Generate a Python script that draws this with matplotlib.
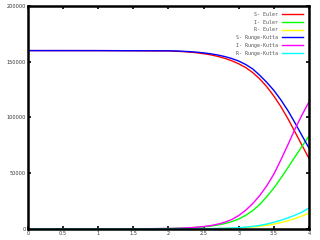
import matplotlib
matplotlib.use('Agg')
import matplotlib.pyplot as plt

# time points (days)
t = [0.0, 0.5, 1.0, 1.5, 2.0, 2.1, 2.2, 2.3, 2.4, 2.5, 2.6, 2.7, 2.8, 2.9,
     3.0, 3.1, 3.2, 3.3, 3.4, 3.5, 3.6, 3.7, 3.8, 3.9, 4.0]

# Euler
s_euler = [160000, 159995, 159975, 159880, 159700, 159450, 159100, 158650, 158050,
           157250, 156200, 154850, 153100, 150900, 148150, 144750, 140250, 134550,
           127550, 119250, 109750, 98950, 87150, 75150, 63350]
i_euler = [1, 5, 22, 105, 405, 550, 750, 1020, 1390, 1900, 2590, 3530, 4830, 6570,
           8960, 12220, 16500, 22070, 29000, 36700, 45600, 55000, 64600, 74000, 83400]
r_euler = [0, 0, 2, 10, 43, 58, 80, 108, 147, 200, 275, 375, 510, 700,
           950, 1300, 1770, 2410, 3250, 4330, 5680, 7340, 9320, 11600, 14200]

# Runge-Kutta
s_rk = [160000, 159995, 159975, 159880, 159800, 159675, 159415, 159055, 158590,
        157970, 157145, 156065, 154675, 152880, 150625, 147500, 143500, 137800,
        131500, 124300, 115800, 106200, 95300, 83800, 72600]
i_rk = [1, 5, 22, 100, 398, 560, 787, 1100, 1550, 2180, 3050, 4300, 6020, 8450,
        12000, 16850, 22750, 30050, 38750, 49200, 62000, 75500, 89500, 102200, 113900]
r_rk = [0, 0, 2, 10, 60, 80, 100, 150, 200, 270, 350, 480, 650, 870,
        1150, 1600, 2300, 3200, 4400, 6000, 7800, 9900, 12300, 15100, 18800]

series = [
    ('S- Euler', s_euler, '#ff0000'),
    ('I- Euler', i_euler, '#00ff00'),
    ('R- Euler', r_euler, '#ffff00'),
    ('S- Runge-Kutta', s_rk, '#0000ff'),
    ('I- Runge-Kutta', i_rk, '#ff00ff'),
    ('R- Runge-Kutta', r_rk, '#00ffff'),
]

xticks = [0, 0.5, 1, 1.5, 2, 2.5, 3, 3.5, 4]
xlabels = ['0', '0.5', '1', '1.5', '2', '2.5', '3', '3.5', '4']
yticks = [0, 50000, 100000, 150000, 200000]


def main():
    fig = plt.figure(figsize=(3.2, 2.4), dpi=100)
    ax = fig.add_axes([0.0875, 0.046, 0.878, 0.929])

    for label, vals, color in series:
        ax.plot(t, vals, color=color, lw=1.0, label=label)

    ax.set_xlim(0, 4)
    ax.set_ylim(0, 200000)
    ax.set_xticks(xticks)
    ax.set_xticklabels(xlabels)
    ax.set_yticks(yticks)
    ax.tick_params(direction='in', length=2, width=1.2, labelsize=3.6,
                   top=True, right=True, pad=1.5, labelcolor='#333333')
    for sp in ax.spines.values():
        sp.set_linewidth(1.8)

    leg = ax.legend(loc='upper right', frameon=False, markerfirst=False,
                    prop={'family': 'DejaVu Sans Mono', 'size': 3.6},
                    handlelength=4.2, labelspacing=0.55, handletextpad=0.8,
                    borderaxespad=0.8)
    for txt in leg.get_texts():
        txt.set_color('#555555')
        txt.set_ha('right')

    fig.savefig('out.png', dpi=100)


if __name__ == '__main__':
    main()
